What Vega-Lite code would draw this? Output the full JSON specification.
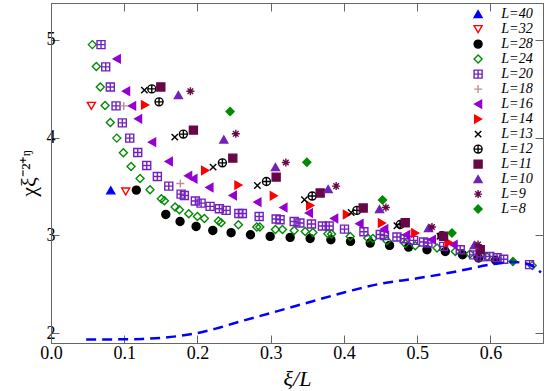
{
  "$schema": "https://vega.github.io/schema/vega-lite/v6.json",
  "width": 492,
  "height": 340,
  "autosize": {"type": "none"},
  "padding": {"left": 51, "top": 3, "right": 2, "bottom": 48},
  "background": "white",
  "datasets": {
    "pts": [
      {"L":"L=40","x":0.0816,"y":3.46},
      {"L":"L=32","x":0.0551,"y":4.325},{"L":"L=32","x":0.102,"y":3.449},
      {"L":"L=28","x":0.1165,"y":3.463},{"L":"L=28","x":0.1567,"y":3.214},{"L":"L=28","x":0.1762,"y":3.142},{"L":"L=28","x":0.1981,"y":3.091},{"L":"L=28","x":0.2209,"y":3.05},{"L":"L=28","x":0.2459,"y":3.027},{"L":"L=28","x":0.2723,"y":3.006},{"L":"L=28","x":0.2992,"y":2.989},{"L":"L=28","x":0.3265,"y":2.979},{"L":"L=28","x":0.3538,"y":2.968},{"L":"L=28","x":0.3821,"y":2.955},{"L":"L=28","x":0.4089,"y":2.938},{"L":"L=28","x":0.4358,"y":2.921},{"L":"L=28","x":0.4622,"y":2.897},{"L":"L=28","x":0.4881,"y":2.88},{"L":"L=28","x":0.5133,"y":2.853},{"L":"L=28","x":0.5383,"y":2.835},{"L":"L=28","x":0.5619,"y":2.802},{"L":"L=28","x":0.5837,"y":2.768},{"L":"L=28","x":0.607,"y":2.745},
      {"L":"L=24","x":0.0564,"y":4.952},{"L":"L=24","x":0.0619,"y":4.727},{"L":"L=24","x":0.0673,"y":4.519},{"L":"L=24","x":0.0738,"y":4.328},{"L":"L=24","x":0.081,"y":4.154},{"L":"L=24","x":0.0898,"y":3.995},{"L":"L=24","x":0.0988,"y":3.845},{"L":"L=24","x":0.1093,"y":3.704},{"L":"L=24","x":0.1216,"y":3.582},{"L":"L=24","x":0.1352,"y":3.466},{"L":"L=24","x":0.1507,"y":3.374},{"L":"L=24","x":0.1548,"y":3.354},{"L":"L=24","x":0.1694,"y":3.289},{"L":"L=24","x":0.1753,"y":3.262},{"L":"L=24","x":0.1881,"y":3.221},{"L":"L=24","x":0.1999,"y":3.193},{"L":"L=24","x":0.2094,"y":3.173},{"L":"L=24","x":0.2286,"y":3.146},{"L":"L=24","x":0.2322,"y":3.129},{"L":"L=24","x":0.2559,"y":3.108},{"L":"L=24","x":0.281,"y":3.085},{"L":"L=24","x":0.2851,"y":3.085},{"L":"L=24","x":0.3064,"y":3.06},{"L":"L=24","x":0.316,"y":3.06},{"L":"L=24","x":0.332,"y":3.05},{"L":"L=24","x":0.347,"y":3.04},{"L":"L=24","x":0.3575,"y":3.03},{"L":"L=24","x":0.378,"y":3.016},{"L":"L=24","x":0.383,"y":3.013},{"L":"L=24","x":0.4085,"y":2.989},{"L":"L=24","x":0.4326,"y":2.972},{"L":"L=24","x":0.4395,"y":2.968},{"L":"L=24","x":0.4586,"y":2.945},{"L":"L=24","x":0.4836,"y":2.917},{"L":"L=24","x":0.4973,"y":2.894},{"L":"L=24","x":0.527,"y":2.87},{"L":"L=24","x":0.552,"y":2.835},{"L":"L=24","x":0.572,"y":2.81},{"L":"L=24","x":0.595,"y":2.78},{"L":"L=24","x":0.657,"y":2.69},
      {"L":"L=20","x":0.0683,"y":4.952},{"L":"L=20","x":0.0747,"y":4.724},{"L":"L=20","x":0.081,"y":4.519},{"L":"L=20","x":0.0888,"y":4.325},{"L":"L=20","x":0.0974,"y":4.151},{"L":"L=20","x":0.1075,"y":3.995},{"L":"L=20","x":0.1184,"y":3.848},{"L":"L=20","x":0.1307,"y":3.715},{"L":"L=20","x":0.1452,"y":3.602},{"L":"L=20","x":0.1608,"y":3.504},{"L":"L=20","x":0.1776,"y":3.422},{"L":"L=20","x":0.1821,"y":3.408},{"L":"L=20","x":0.1971,"y":3.351},{"L":"L=20","x":0.2049,"y":3.33},{"L":"L=20","x":0.2172,"y":3.296},{"L":"L=20","x":0.2299,"y":3.272},{"L":"L=20","x":0.2391,"y":3.255},{"L":"L=20","x":0.2564,"y":3.224},{"L":"L=20","x":0.2613,"y":3.224},{"L":"L=20","x":0.2842,"y":3.193},{"L":"L=20","x":0.3074,"y":3.167},{"L":"L=20","x":0.3128,"y":3.16},{"L":"L=20","x":0.332,"y":3.142},{"L":"L=20","x":0.3398,"y":3.126},{"L":"L=20","x":0.3556,"y":3.116},{"L":"L=20","x":0.3706,"y":3.095},{"L":"L=20","x":0.3798,"y":3.095},{"L":"L=20","x":0.4007,"y":3.064},{"L":"L=20","x":0.4272,"y":3.037},{"L":"L=20","x":0.4495,"y":3.009},{"L":"L=20","x":0.4553,"y":2.999},{"L":"L=20","x":0.4723,"y":2.983},{"L":"L=20","x":0.4822,"y":2.965},{"L":"L=20","x":0.495,"y":2.948},{"L":"L=20","x":0.5086,"y":2.931},{"L":"L=20","x":0.5146,"y":2.921},{"L":"L=20","x":0.536,"y":2.887},{"L":"L=20","x":0.5587,"y":2.853},{"L":"L=20","x":0.577,"y":2.8},{"L":"L=20","x":0.586,"y":2.78},{"L":"L=20","x":0.599,"y":2.784},{"L":"L=20","x":0.609,"y":2.77},{"L":"L=20","x":0.618,"y":2.755},{"L":"L=20","x":0.6534,"y":2.7},
      {"L":"L=18","x":0.0993,"y":4.325},{"L":"L=18","x":0.1766,"y":3.531},
      {"L":"L=16","x":0.0898,"y":4.806},{"L":"L=16","x":0.1025,"y":4.475},{"L":"L=16","x":0.1107,"y":4.325},{"L":"L=16","x":0.1189,"y":4.192},{"L":"L=16","x":0.138,"y":3.954},{"L":"L=16","x":0.1608,"y":3.756},{"L":"L=16","x":0.1872,"y":3.609},{"L":"L=16","x":0.1944,"y":3.579},{"L":"L=16","x":0.2163,"y":3.49},{"L":"L=16","x":0.2482,"y":3.408},{"L":"L=16","x":0.2818,"y":3.34},{"L":"L=16","x":0.3173,"y":3.285},{"L":"L=16","x":0.352,"y":3.228},{"L":"L=16","x":0.3866,"y":3.173},{"L":"L=16","x":0.4212,"y":3.119},{"L":"L=16","x":0.4549,"y":3.064},{"L":"L=16","x":0.485,"y":3.006},{"L":"L=16","x":0.52,"y":2.955},{"L":"L=16","x":0.5496,"y":2.904},
      {"L":"L=14","x":0.1284,"y":4.335},{"L":"L=14","x":0.2104,"y":3.664},{"L":"L=14","x":0.2559,"y":3.514},{"L":"L=14","x":0.3042,"y":3.405},{"L":"L=14","x":0.3538,"y":3.306},{"L":"L=14","x":0.404,"y":3.214},{"L":"L=14","x":0.4518,"y":3.126},{"L":"L=14","x":0.4973,"y":3.023},{"L":"L=14","x":0.5428,"y":2.927},
      {"L":"L=13","x":0.1275,"y":4.486},{"L":"L=13","x":0.169,"y":4.005},{"L":"L=13","x":0.2213,"y":3.698},{"L":"L=13","x":0.2818,"y":3.51},{"L":"L=13","x":0.346,"y":3.364},{"L":"L=13","x":0.4098,"y":3.234},{"L":"L=13","x":0.4723,"y":3.098},{"L":"L=13","x":0.531,"y":2.99},
      {"L":"L=12","x":0.1376,"y":4.499},{"L":"L=12","x":0.1475,"y":4.366},{"L":"L=12","x":0.1807,"y":4.036},{"L":"L=12","x":0.234,"y":3.742},{"L":"L=12","x":0.2941,"y":3.551},{"L":"L=12","x":0.3566,"y":3.402},{"L":"L=12","x":0.4176,"y":3.255},{"L":"L=12","x":0.4768,"y":3.111},{"L":"L=12","x":0.5337,"y":2.995},
      {"L":"L=11","x":0.1499,"y":4.519},{"L":"L=11","x":0.1944,"y":4.077},{"L":"L=11","x":0.2482,"y":3.79},{"L":"L=11","x":0.3074,"y":3.596},{"L":"L=11","x":0.3675,"y":3.433},{"L":"L=11","x":0.4262,"y":3.279},{"L":"L=11","x":0.4836,"y":3.129},{"L":"L=11","x":0.5359,"y":2.99},{"L":"L=11","x":0.586,"y":2.853},
      {"L":"L=10","x":0.1739,"y":4.435},{"L":"L=10","x":0.2359,"y":3.981},{"L":"L=10","x":0.3064,"y":3.698},{"L":"L=10","x":0.3784,"y":3.473},{"L":"L=10","x":0.4485,"y":3.269},{"L":"L=10","x":0.5154,"y":3.075},{"L":"L=10","x":0.578,"y":2.9},
      {"L":"L=9","x":0.1903,"y":4.475},{"L":"L=9","x":0.2523,"y":4.039},{"L":"L=9","x":0.3206,"y":3.745},{"L":"L=9","x":0.3893,"y":3.504},{"L":"L=9","x":0.4572,"y":3.285},{"L":"L=9","x":0.5201,"y":3.085},{"L":"L=9","x":0.583,"y":2.905},
      {"L":"L=8","x":0.2445,"y":4.267},{"L":"L=8","x":0.3493,"y":3.749},{"L":"L=8","x":0.4526,"y":3.361},{"L":"L=8","x":0.5474,"y":3.024},{"L":"L=8","x":0.6307,"y":2.733}
    ],
    "curve": [
      {"x":0.048,"y":1.935},{"x":0.08,"y":1.935},{"x":0.1,"y":1.936},{"x":0.125,"y":1.94},{"x":0.15,"y":1.95},{"x":0.175,"y":1.97},{"x":0.2,"y":2.0},{"x":0.225,"y":2.045},{"x":0.25,"y":2.1},{"x":0.3,"y":2.205},{"x":0.35,"y":2.31},{"x":0.4,"y":2.415},{"x":0.45,"y":2.505},{"x":0.5,"y":2.56},{"x":0.55,"y":2.625},{"x":0.6,"y":2.7},{"x":0.63,"y":2.727},{"x":0.65,"y":2.71},{"x":0.669,"y":2.62}
    ]
  },
  "layer": [
    {
      "data": {"name": "pts"},
      "mark": {"type": "point", "size": 64, "opacity": 1, "strokeWidth": 1.4},
      "encoding": {
        "x": {"field": "x", "type": "quantitative",
              "scale": {"domain": [0, 0.6717], "nice": false, "zero": false},
              "axis": {"orient": "bottom", "values": [0, 0.1, 0.2, 0.3, 0.4, 0.5, 0.6], "format": ".1f", "title": "ξ/L", "labelPadding": 9, "titlePadding": 6, "titleFontStyle": "italic"}},
        "y": {"field": "y", "type": "quantitative",
              "scale": {"domain": [1.898, 5.378], "nice": false, "zero": false},
              "axis": {"orient": "left", "values": [2, 3, 4, 5], "format": "d", "title": "χξ⁻²⁺ᵑ", "labelPadding": 4, "titlePadding": 6}},
        "shape": {"field": "L", "type": "nominal", "sort": null,
                  "scale": {"domain": ["L=40","L=32","L=28","L=24","L=20","L=18","L=16","L=14","L=13","L=12","L=11","L=10","L=9","L=8"],
                            "range": ["triangle-up","triangle-down","circle","diamond","M-1,-1H1V1H-1ZM0,-1V1M-1,0H1","M-1,0H1M0,-1V1","triangle-left","triangle-right","M-0.8,-0.8L0.8,0.8M0.8,-0.8L-0.8,0.8","M-1,0A1,1,0,1,1,1,0A1,1,0,1,1,-1,0ZM-1,0H1M0,-1V1","square","triangle-up","M-1,0H1M0,-1V1M-0.7,-0.7L0.7,0.7M0.7,-0.7L-0.7,0.7","diamond"]},
                  "legend": {"title": null}},
        "fill": {"field": "L", "type": "nominal", "sort": null,
                 "scale": {"domain": ["L=40","L=32","L=28","L=24","L=20","L=18","L=16","L=14","L=13","L=12","L=11","L=10","L=9","L=8"],
                           "range": ["#0000ff","transparent","#000000","transparent","transparent","transparent","#9400d3","#ff0000","transparent","transparent","#670748","#7221bc","#670748","#008b00"]},
                 "legend": {"title": null}},
        "stroke": {"field": "L", "type": "nominal", "sort": null,
                   "scale": {"domain": ["L=40","L=32","L=28","L=24","L=20","L=18","L=16","L=14","L=13","L=12","L=11","L=10","L=9","L=8"],
                             "range": ["#0000ff","#ff0000","#000000","#008b00","#7221bc","#bc8f8f","#9400d3","#ff0000","#000000","#000000","#670748","#7221bc","#670748","#008b00"]},
                   "legend": {"title": null}}
      }
    },
    {
      "data": {"name": "curve"},
      "mark": {"type": "line", "color": "#0000ff", "strokeWidth": 2.5, "strokeDash": [10, 6], "interpolate": "monotone"},
      "encoding": {
        "x": {"field": "x", "type": "quantitative", "axis": {"orient": "top", "values": [0, 0.1, 0.2, 0.3, 0.4, 0.5, 0.6], "labels": false, "title": null}},
        "y": {"field": "y", "type": "quantitative", "axis": {"orient": "right", "values": [2, 3, 4, 5], "labels": false, "title": null}}
      }
    }
  ],
  "resolve": {"axis": {"x": "independent", "y": "independent"}},
  "config": {
    "view": {"stroke": "#666666", "strokeWidth": 1},
    "axis": {
      "grid": false,
      "domainColor": "#666666",
      "tickColor": "#666666",
      "tickSize": -8,
      "labelFont": "Liberation Serif",
      "labelFontSize": 18,
      "labelColor": "#000000",
      "labelFlush": false,
      "labelOverlap": false,
      "titleFont": "Liberation Serif",
      "titleFontSize": 22,
      "titleFontWeight": "normal",
      "titleColor": "#000000"
    },
    "legend": {
      "orient": "none",
      "legendX": 420,
      "legendY": 4,
      "labelFont": "Liberation Serif",
      "labelFontStyle": "italic",
      "labelFontSize": 14.2,
      "labelColor": "#000000",
      "labelOffset": 16,
      "symbolSize": 64,
      "symbolStrokeWidth": 1.4,
      "rowPadding": 0,
      "padding": 0
    }
  }
}
